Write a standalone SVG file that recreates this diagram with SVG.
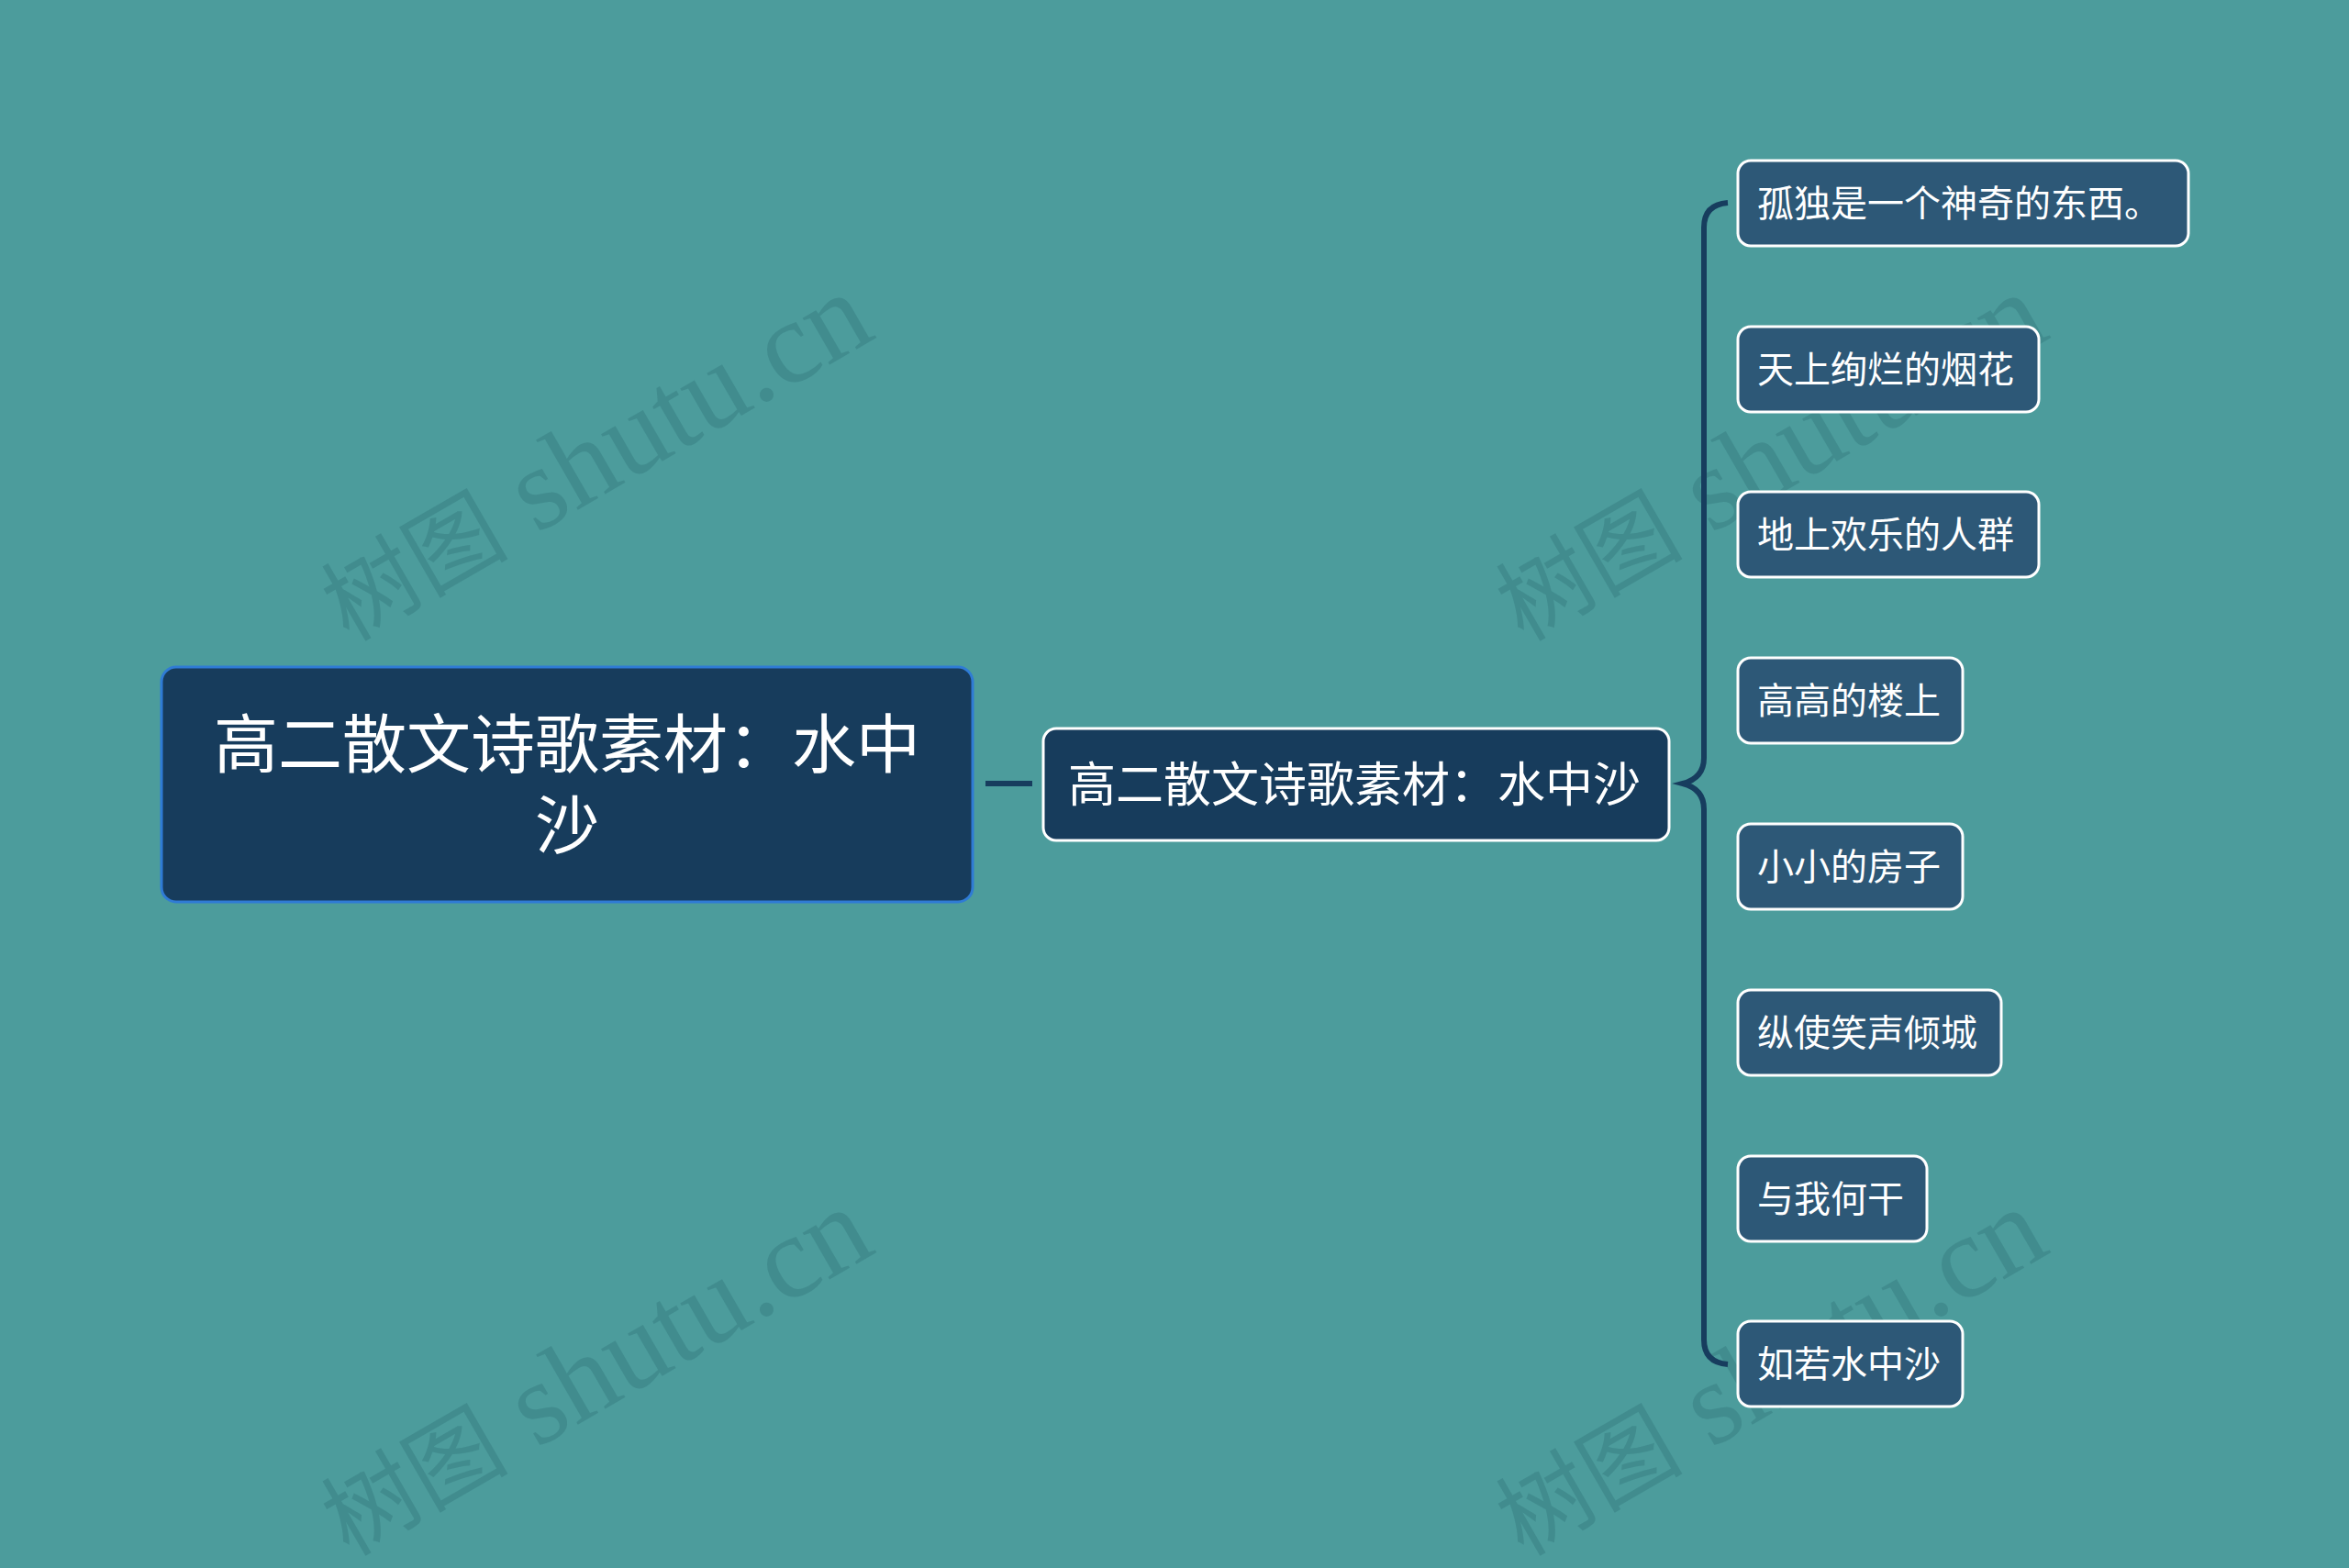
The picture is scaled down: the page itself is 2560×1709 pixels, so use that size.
<svg xmlns="http://www.w3.org/2000/svg" width="2560" height="1709" viewBox="0 0 2560 1709">
<style>
.wm{font-family:"Liberation Serif","Noto Sans CJK SC",serif;font-size:128px;fill:#3d878a;fill-opacity:0.75}
.wm .cjk{font-size:102px}
.t{font-family:"Noto Sans CJK SC","Noto Sans CJK TC",sans-serif;fill:#ffffff}
.child{fill:#2d5877;stroke:#ffffff;stroke-width:3}
.conn{fill:none;stroke:#173d5e;stroke-width:6;stroke-linecap:butt}
</style>
<rect width="2560" height="1709" fill="#4c9c9c"/>
<g id="watermarks">
<text class="wm" transform="translate(380,700) rotate(-30)"><tspan class="cjk">树图</tspan> shutu.cn</text>
<text class="wm" transform="translate(1660,700) rotate(-30)"><tspan class="cjk">树图</tspan> shutu.cn</text>
<text class="wm" transform="translate(380,1697) rotate(-30)"><tspan class="cjk">树图</tspan> shutu.cn</text>
<text class="wm" transform="translate(1660,1697) rotate(-30)"><tspan class="cjk">树图</tspan> shutu.cn</text>
</g>
<g id="connectors">
<line class="conn" x1="1074" y1="854" x2="1125" y2="854"/>
<path class="conn" d="M1883,221 Q1857,223 1857,248 L1857,826 Q1857,848 1834,854 Q1857,860 1857,882 L1857,1460 Q1857,1485 1883,1487"/>
</g>
<g id="root">
<rect x="176" y="727" width="884" height="256" rx="16" fill="#173c5c" stroke="#2f7bd5" stroke-width="3"/>
<text class="t" x="618" y="837" font-size="70" text-anchor="middle">高二散文诗歌素材：水中</text>
<text class="t" x="618" y="925" font-size="70" text-anchor="middle">沙</text>
</g>
<g id="main">
<rect x="1137" y="794" width="682" height="122" rx="14" fill="#173c5c" stroke="#ffffff" stroke-width="3"/>
<text class="t" x="1476" y="874" font-size="52" text-anchor="middle">高二散文诗歌素材：水中沙</text>
</g>
<g id="c1"><rect class="child" x="1894" y="175" width="491" height="93" rx="14"/><text class="t" x="1915" y="236" font-size="40">孤独是一个神奇的东西。</text></g>
<g id="c2"><rect class="child" x="1894" y="356" width="328" height="93" rx="14"/><text class="t" x="1915" y="417" font-size="40">天上绚烂的烟花</text></g>
<g id="c3"><rect class="child" x="1894" y="536" width="328" height="93" rx="14"/><text class="t" x="1915" y="597" font-size="40">地上欢乐的人群</text></g>
<g id="c4"><rect class="child" x="1894" y="717" width="245" height="93" rx="14"/><text class="t" x="1915" y="778" font-size="40">高高的楼上</text></g>
<g id="c5"><rect class="child" x="1894" y="898" width="245" height="93" rx="14"/><text class="t" x="1915" y="959" font-size="40">小小的房子</text></g>
<g id="c6"><rect class="child" x="1894" y="1079" width="287" height="93" rx="14"/><text class="t" x="1915" y="1140" font-size="40">纵使笑声倾城</text></g>
<g id="c7"><rect class="child" x="1894" y="1260" width="206" height="93" rx="14"/><text class="t" x="1915" y="1321" font-size="40">与我何干</text></g>
<g id="c8"><rect class="child" x="1894" y="1440" width="245" height="93" rx="14"/><text class="t" x="1915" y="1501" font-size="40">如若水中沙</text></g>
</svg>
